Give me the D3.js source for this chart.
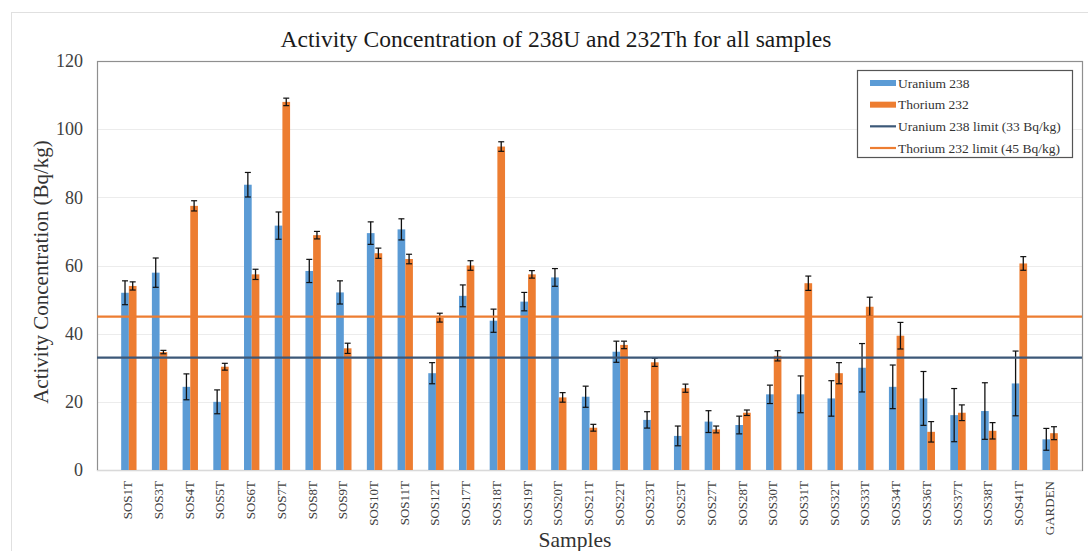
<!DOCTYPE html>
<html>
<head>
<meta charset="utf-8">
<script src="https://cdn.jsdelivr.net/npm/d3@7"></script>
<style>
  html, body { margin: 0; padding: 0; background: #fff; }
  svg { display: block; font-family: "Liberation Serif", "Times New Roman", serif; }
</style>
</head>
<body>
<svg id="chart" width="1088" height="551"></svg>
<script>
// Sample identifiers along the category axis
const categories = ["SOS1T","SOS3T","SOS4T","SOS5T","SOS6T","SOS7T","SOS8T","SOS9T","SOS10T","SOS11T",
  "SOS12T","SOS17T","SOS18T","SOS19T","SOS20T","SOS21T","SOS22T","SOS23T","SOS25T","SOS27T",
  "SOS28T","SOS30T","SOS31T","SOS32T","SOS33T","SOS34T","SOS36T","SOS37T","SOS38T","SOS41T","GARDEN"];

// Activity concentrations (Bq/kg)
const uranium238 = [52.0,57.9,24.4,20.0,83.7,71.7,58.4,52.1,69.5,70.6,
  28.4,51.1,43.8,49.4,56.5,21.5,34.7,14.7,10.0,14.2,
  13.2,22.2,22.2,21.0,30.0,24.4,21.0,16.1,17.3,25.4,9.0];
const thorium232 = [54.0,34.6,77.5,30.3,57.4,108.0,68.9,35.7,63.6,61.9,
  44.7,60.0,94.9,57.4,21.3,12.4,36.7,31.6,24.0,11.9,
  16.8,33.5,54.8,28.4,47.9,39.4,11.2,16.8,11.5,60.6,10.8];

// Measurement uncertainties (Bq/kg)
const uranium238Err = [3.5,4.3,3.8,3.5,3.6,4.0,3.4,3.4,3.3,3.1,
  3.1,3.2,3.4,2.7,2.6,3.1,3.1,2.4,2.9,3.2,
  2.6,2.7,5.4,5.2,7.1,6.4,7.9,7.8,8.3,9.5,3.2];
const thorium232Err = [1.2,0.5,1.5,1.0,1.5,1.1,1.1,1.5,1.5,1.4,
  1.3,1.4,1.4,1.1,1.4,1.0,1.1,1.2,1.2,1.0,
  0.8,1.5,2.1,3.1,2.8,3.9,3.0,2.3,2.4,2.0,1.9];

// Reference limits (Bq/kg)
const uraniumLimit = 33;
const thoriumLimit = 45;

const yTicks = [0, 20, 40, 60, 80, 100, 120];

const seriesNames = ["Uranium 238", "Thorium 232",
  "Uranium 238 limit (33 Bq/kg)", "Thorium 232 limit (45 Bq/kg)"];

const colors = { u: "#5B9BD5", t: "#ED7D31", uLine: "#3C5878", tLine: "#ED7D31" };

const svg = d3.select("#chart");
const W = 1088, H = 551;
const plot = { left: 97, right: 1082, top: 61, bottom: 470 };

svg.append("rect").attr("width", W).attr("height", H).attr("fill", "#fff");

// outer chart frame
svg.append("rect")
  .attr("x", 11.5).attr("y", 12.5)
  .attr("width", W + 20).attr("height", H + 20)
  .attr("fill", "none").attr("stroke", "#e0e0e0").attr("stroke-width", 1);

const y = d3.scaleLinear().domain([0, 120]).range([plot.bottom, plot.top]);

const x = d3.scaleBand()
  .domain(categories)
  .range([plot.left + 16.5, plot.right - 16.5])
  .paddingInner(0.5)
  .paddingOuter(0.25);

const sub = d3.scaleBand().domain(["u", "t"]).range([0, x.bandwidth()]).padding(0);

// gridlines
svg.append("g")
  .selectAll("line")
  .data(yTicks.filter(d => d > 0 && d < 120))
  .join("line")
  .attr("x1", plot.left).attr("x2", plot.right)
  .attr("y1", d => Math.round(y(d)) + 0.5).attr("y2", d => Math.round(y(d)) + 0.5)
  .attr("stroke", "#ececec").attr("stroke-width", 1);

// plot frame
svg.append("rect")
  .attr("x", plot.left + 0.5).attr("y", plot.top + 0.5)
  .attr("width", plot.right - plot.left).attr("height", plot.bottom - plot.top)
  .attr("fill", "none").attr("stroke", "#8f8f8f").attr("stroke-width", 1.2);

// y axis labels
const yAxis = d3.axisLeft(y).tickValues(yTicks).tickSize(0).tickPadding(14);
const gy = svg.append("g").attr("transform", `translate(${plot.left},0)`).call(yAxis);
gy.select(".domain").remove();
gy.selectAll("text")
  .attr("font-family", "Liberation Serif, Times New Roman, serif")
  .attr("font-size", 18).attr("fill", "#404040");

// bars
const rows = categories.map((c, i) => ({
  c, u: uranium238[i], t: thorium232[i], ue: uranium238Err[i], te: thorium232Err[i]
}));

const groups = svg.append("g").selectAll("g")
  .data(rows).join("g")
  .attr("transform", d => `translate(${x(d.c)},0)`);

groups.append("rect")
  .attr("x", sub("u")).attr("width", sub.bandwidth())
  .attr("y", d => y(d.u)).attr("height", d => y(0) - y(d.u))
  .attr("fill", colors.u);

groups.append("rect")
  .attr("x", sub("t")).attr("width", sub.bandwidth())
  .attr("y", d => y(d.t)).attr("height", d => y(0) - y(d.t))
  .attr("fill", colors.t);

// bottom axis line
svg.append("line")
  .attr("x1", plot.left).attr("x2", plot.right)
  .attr("y1", plot.bottom + 0.5).attr("y2", plot.bottom + 0.5)
  .attr("stroke", "#d9d9d9").attr("stroke-width", 1);

// limit lines
svg.append("line")
  .attr("x1", plot.left).attr("x2", plot.right)
  .attr("y1", y(thoriumLimit)).attr("y2", y(thoriumLimit))
  .attr("stroke", colors.tLine).attr("stroke-width", 2.2);
svg.append("line")
  .attr("x1", plot.left).attr("x2", plot.right)
  .attr("y1", y(uraniumLimit)).attr("y2", y(uraniumLimit))
  .attr("stroke", colors.uLine).attr("stroke-width", 2.2);

// error bars
function errorBar(sel, key, errKey) {
  const cx = sub(key) + sub.bandwidth() / 2;
  const cap = 3;
  sel.append("line")
    .attr("x1", cx).attr("x2", cx)
    .attr("y1", d => y(d[key] + d[errKey])).attr("y2", d => y(d[key] - d[errKey]))
    .attr("stroke", "#111").attr("stroke-width", 1.3);
  sel.append("line")
    .attr("x1", cx - cap).attr("x2", cx + cap)
    .attr("y1", d => y(d[key] + d[errKey])).attr("y2", d => y(d[key] + d[errKey]))
    .attr("stroke", "#111").attr("stroke-width", 1.2);
  sel.append("line")
    .attr("x1", cx - cap).attr("x2", cx + cap)
    .attr("y1", d => y(d[key] - d[errKey])).attr("y2", d => y(d[key] - d[errKey]))
    .attr("stroke", "#111").attr("stroke-width", 1.2);
}
errorBar(groups, "u", "ue");
errorBar(groups, "t", "te");

// category labels
svg.append("g").selectAll("text")
  .data(categories).join("text")
  .attr("transform", d => `translate(${x(d) + x.bandwidth() / 2 - 1},${plot.bottom + 11}) rotate(-90)`)
  .attr("text-anchor", "end")
  .attr("dominant-baseline", "central")
  .attr("font-size", 13).attr("fill", "#404040")
  .text(d => d);

// titles
svg.append("text")
  .attr("x", 556).attr("y", 47)
  .attr("text-anchor", "middle")
  .attr("font-size", 23.5).attr("fill", "#1a1a1a")
  .text("Activity Concentration of 238U and 232Th for all samples");

svg.append("text")
  .attr("x", 575).attr("y", 547)
  .attr("text-anchor", "middle")
  .attr("font-size", 21.5).attr("fill", "#333")
  .text("Samples");

svg.append("text")
  .attr("transform", "translate(41,272) rotate(-90)")
  .attr("text-anchor", "middle")
  .attr("dominant-baseline", "central")
  .attr("font-size", 21).attr("fill", "#333")
  .text("Activity Concentration (Bq/kg)");

// legend
const legend = svg.append("g");
legend.append("rect")
  .attr("x", 857.5).attr("y", 70.5).attr("width", 215).attr("height", 87)
  .attr("fill", "#fff").attr("stroke", "#555").attr("stroke-width", 1.2);

const legendItems = [
  { name: seriesNames[0], type: "bar", color: colors.u },
  { name: seriesNames[1], type: "bar", color: colors.t },
  { name: seriesNames[2], type: "line", color: colors.uLine },
  { name: seriesNames[3], type: "line", color: colors.tLine }
];
const ly = d3.scalePoint().domain(legendItems.map(d => d.name)).range([83, 148]);

legendItems.forEach(item => {
  const cy = ly(item.name);
  if (item.type === "bar") {
    legend.append("rect").attr("x", 870).attr("y", cy - 3).attr("width", 26).attr("height", 6)
      .attr("fill", item.color);
  } else {
    legend.append("line").attr("x1", 870).attr("x2", 896).attr("y1", cy).attr("y2", cy)
      .attr("stroke", item.color).attr("stroke-width", 2.2);
  }
  legend.append("text")
    .attr("x", 898).attr("y", cy)
    .attr("dominant-baseline", "central")
    .attr("font-family", "Liberation Serif, Times New Roman, serif")
    .attr("font-size", 13.5).attr("fill", "#333")
    .text(item.name);
});
</script>
</body>
</html>
